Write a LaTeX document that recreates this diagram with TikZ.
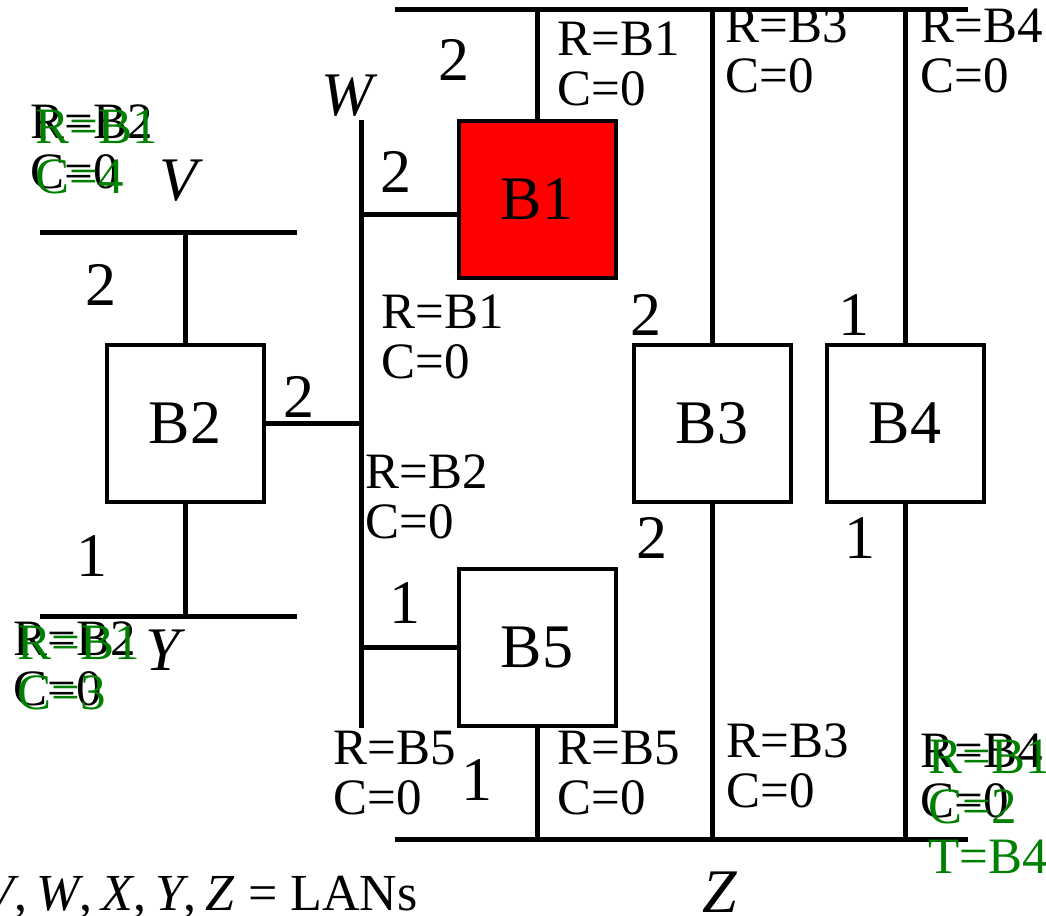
\documentclass[tikz,border=0pt]{standalone}
\usepackage{fontspec}
\setmainfont{Liberation Serif}
\definecolor{tgreen}{RGB}{0,128,0}
\begin{document}
\begin{tikzpicture}[x=0.5pt,y=-0.5pt,
  lan/.style={line width=2.5pt},
  link/.style={line width=2.5pt},
  bridge/.style={draw,line width=2pt,minimum width=78.5pt,minimum height=78.5pt,inner sep=0pt,font=\fontsize{31}{34}\selectfont},
  big/.style={inner sep=0pt,anchor=base,font=\fontsize{31}{34}\selectfont},
  lanname/.style={inner sep=0pt,anchor=base,font=\fontsize{31}{34}\selectfont\itshape},
  tab/.style={inner sep=0pt,anchor=base west,align=left,font=\fontsize{25.5}{25}\selectfont},
  gtab/.style={tab,text=tgreen},
  ]
\useasboundingbox (0,0) rectangle (1046,916);
% LAN end points
\coordinate (Xl) at (395,9);   \coordinate (Xr) at (968,9);
\coordinate (Zl) at (395,839); \coordinate (Zr) at (968,839);
\coordinate (Vl) at (40,232);  \coordinate (Vr) at (297,232);
\coordinate (Yl) at (40,616);  \coordinate (Yr) at (297,616);
\coordinate (Wt) at (361,120); \coordinate (Wb) at (361,728);
\coordinate (B1y) at (0,214);
% bridges
\node[bridge,fill=red] (B1) at (537,199) {\raisebox{-1.5pt}{B1}};
\node[bridge] (B2) at (185,423) {B2};
\node[bridge] (B3) at (712,423) {B3};
\node[bridge] (B4) at (905,423) {B4};
\node[bridge] (B5) at (537,647) {B5};
% LANs
\draw[lan] (Xl) -- (Xr);
\draw[lan] (Zl) -- (Zr);
\draw[lan] (Vl) -- (Vr);
\draw[lan] (Yl) -- (Yr);
\draw[lan] (Wt) -- (Wb);
% links
\draw[link] (B1.north) -- (B1.north |- Xl);
\draw[link] (B1.west |- B1y) -- (Wt |- B1y);
\draw[link] (B2.north) -- (B2.north |- Vl);
\draw[link] (B2.south) -- (B2.south |- Yl);
\draw[link] (B2.east) -- (B2.east -| Wt);
\draw[link] (B3.north) -- (B3.north |- Xl);
\draw[link] (B3.south) -- (B3.south |- Zl);
\draw[link] (B4.north) -- (B4.north |- Xl);
\draw[link] (B4.south) -- (B4.south |- Zl);
\draw[link] (B5.west) -- (B5.west -| Wt);
\draw[link] (B5.south) -- (B5.south |- Zl);
% port numbers
\node[big] (p1) at (454,80) {2};
\node[big] (p2) at (396,192) {2};
\node[big] (p3) at (101,305) {2};
\node[big] (p4) at (299,417) {2};
\node[big] (p5) at (646,335) {2};
\node[big] (p6) at (854,335) {1};
\node[big] (p7) at (652,558) {2};
\node[big] (p8) at (860,558) {1};
\node[big] (p9) at (92,576) {1};
\node[big] (p10) at (405,623) {1};
\node[big] (p11) at (477,800) {1};
% LAN names
\node[lanname] (nW) at (347,115) {W};
\node[lanname] (nV) at (178,200) {V};
\node[lanname] (nY) at (163,670) {Y};
\node[lanname] (nZ) at (720,912) {Z};
% tables (anchored at the baseline of their last line)
\node[tab] (t1) at (557,105) {R=B1\\C=0};
\node[tab] (t2) at (725,92) {R=B3\\C=0};
\node[tab] (t3) at (920,92) {R=B4\\C=0};
\node[tab] (t4) at (30,188) {R=B2\\C=0};
\node[gtab] (t4g) at (35,193) {R=B1\\C=4};
\node[tab] (t5) at (381,378) {R=B1\\C=0};
\node[tab] (t6) at (365,538) {R=B2\\C=0};
\node[tab] (t7) at (13,705) {R=B2\\C=0};
\node[gtab] (t7g) at (17,709) {R=B1\\C=3};
\node[tab] (t8) at (333,814) {R=B5\\C=0};
\node[tab] (t9) at (557,814) {R=B5\\C=0};
\node[tab] (t10) at (726,807) {R=B3\\C=0};
\node[tab] (t11) at (920,817) {R=B4\\C=0};
\node[gtab] (t11g) at (928,873) {R=B1\\C=2\\T=B4};
% caption
\node[inner sep=0pt,anchor=base east,font=\fontsize{26}{26}\selectfont] (cap) at (418,910) {\textit{V},\hspace{0.17em}\textit{W},\hspace{0.17em}\textit{X},\hspace{0.17em}\textit{Y},\hspace{0.17em}\textit{Z} = LANs};
\end{tikzpicture}
\end{document}
